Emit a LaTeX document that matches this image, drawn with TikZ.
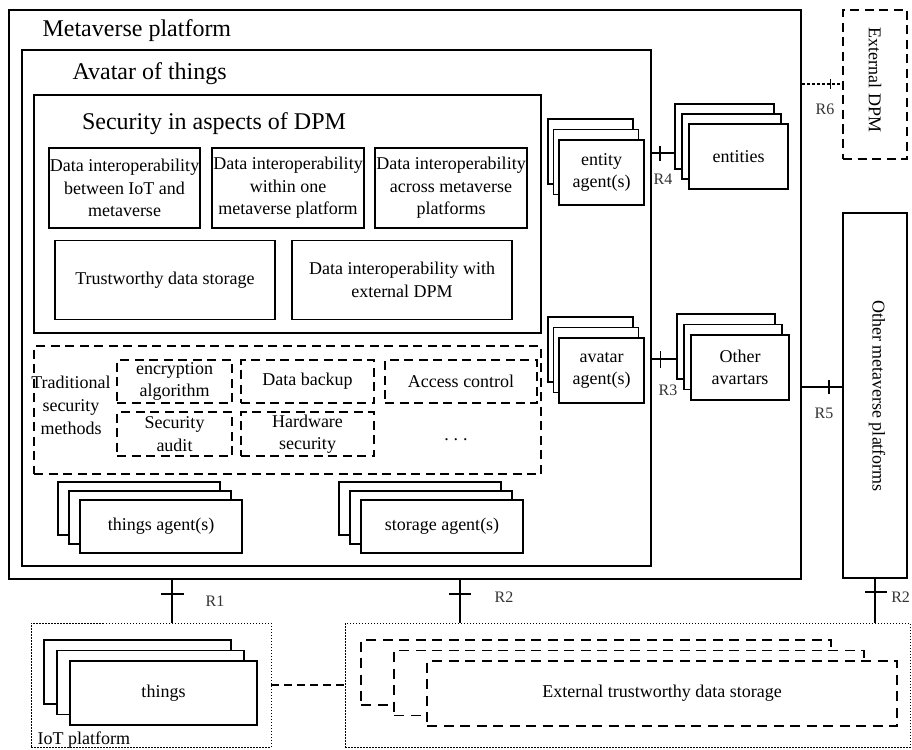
\documentclass[tikz,border=0pt]{standalone}
\usepackage{fontspec}
\setmainfont{Liberation Serif}
\usetikzlibrary{positioning, shadows}

\begin{document}
\begin{tikzpicture}[
  x=1pt, y=-1pt, line width=1.1pt,
  frame/.style={draw, inner sep=0pt},
  box/.style={rectangle, draw, fill=white, inner sep=0pt, align=center, font=\fontsize{18}{22.5}\selectfont},
  dbox/.style={box, dash pattern=on 9pt off 5.5pt},
  dotframe/.style={frame, line width=0.9pt, dash pattern=on 1.5pt off 1.5pt},
  title/.style={anchor=west, inner sep=0pt, font=\fontsize{24}{28}\selectfont},
  txt/.style={inner sep=0pt, align=center, font=\fontsize{18}{23}\selectfont},
  rlabel/.style={inner sep=0pt, text=black!80, font=\fontsize{16}{18}\selectfont},
  stack/.style 2 args={copy shadow={shadow xshift=-2*#1, shadow yshift=2*#2}, copy shadow={shadow xshift=-#1, shadow yshift=#2}},
  rtick/.style={line width=1.4pt}
]
\useasboundingbox (0,0) rectangle (912,749);

% platform frames
\node[frame, minimum width=792pt, minimum height=569pt] (mp) at (405,294.5) {};
\node[title] (mptitle) at (42,31) {Metaverse platform};
\node[frame, minimum width=629pt, minimum height=516pt] (aot) at (336.5,308) {};
\node[title] (aottitle) at (72,74) {Avatar of things};
\node[frame, minimum width=507pt, minimum height=238pt] (dpm) at (287.5,214) {};
\node[title, anchor=center] (dpmtitle) at (214,124) {Security in aspects of DPM};

% DPM aspects
\node[box, minimum width=151pt, minimum height=80pt] (di1) at (124.5,188) {Data interoperability\\between IoT and\\metaverse};
\node[box, minimum width=152pt, minimum height=80pt] (di2) at (288,188) {Data interoperability\\within one\\metaverse platform};
\node[box, minimum width=152pt, minimum height=80pt] (di3) at (451,188) {Data interoperability\\across metaverse\\platforms};
\node[box, minimum width=220pt, minimum height=79pt] (tds) at (165,280) {Trustworthy data storage};
\node[box, minimum width=220pt, minimum height=79pt] (dix) at (402,280) {Data interoperability with\\external DPM};

% traditional methods
\node[frame, dash pattern=on 9pt off 5.5pt, minimum width=507pt, minimum height=128pt] (trad) at (287.5,410) {};
\node[txt] (tradlbl) at (71,405) {Traditional\\security\\methods};
\node[dbox, minimum width=115pt, minimum height=43pt] (enc) at (174.5,381.5) {encryption\\algorithm};
\node[dbox, minimum width=133pt, minimum height=43pt] (bak) at (307.5,381.5) {Data backup};
\node[dbox, minimum width=152pt, minimum height=43pt] (acc) at (461,381.5) {Access control};
\node[dbox, minimum width=115pt, minimum height=44pt] (aud) at (174.5,434) {Security\\audit};
\node[dbox, minimum width=133pt, minimum height=44pt] (hws) at (307.5,434) {Hardware\\security};
\node[txt] (more) at (456,440) {.\hspace{5pt}.\hspace{5pt}.};

% agents
\node[box, stack={5.5pt}{10.5pt}, minimum width=85pt, minimum height=65pt] (enta) at (601.5,172.5) {entity\\agent(s)};
\node[box, stack={5.5pt}{10.5pt}, minimum width=85pt, minimum height=65pt] (avaa) at (601.5,370.5) {avatar\\agent(s)};
\node[box, stack={11pt}{9pt}, minimum width=162pt, minimum height=53pt] (thga) at (161,526.5) {things agent(s)};
\node[box, stack={11pt}{9pt}, minimum width=162pt, minimum height=53pt] (stoa) at (442,526.5) {storage agent(s)};

% outside the avatar
\node[box, stack={7pt}{10pt}, minimum width=99pt, minimum height=65pt] (ents) at (738.5,156.5) {entities};
\node[box, stack={7pt}{10.5pt}, minimum width=98pt, minimum height=65pt] (oav) at (740,367.5) {Other\\avartars};
\node[frame, dash pattern=on 9pt off 5.5pt, minimum width=64pt, minimum height=149pt] (edpm) at (875,84.5) {};
\node[txt, rotate=-90] (edpmlbl) at (875,80) {External DPM};
\node[frame, minimum width=64pt, minimum height=365pt] (omp) at (875,395.5) {};
\node[txt, rotate=-90] (omplbl) at (877,396) {Other metaverse platforms};

% IoT and storage
\node[dotframe, minimum width=240pt, minimum height=124pt] (iot) at (151,685) {};
\node[txt, anchor=west] (iotlbl) at (37,740) {IoT platform};
\node[box, stack={13pt}{10.5pt}, minimum width=187pt, minimum height=64pt] (thg) at (163.5,693) {things};
\node[dotframe, minimum width=565pt, minimum height=124pt] (store) at (627.5,685) {};
\node[box, stack={33pt}{10.5pt}, dash pattern=on 10pt off 6.5pt, minimum width=470pt, minimum height=65pt] (ets) at (662,693.5) {External trustworthy data storage};

% reference points
\coordinate (r4end) at ([xshift=-14pt, yshift=3.5pt]ents.west);
\coordinate (r3end) at ([xshift=-14pt, yshift=8.5pt]oav.west);

\draw (aot.east |- r4end) -- coordinate[pos=.36] (t4) (r4end);
\draw[rtick] ([yshift=7pt]t4) -- ([yshift=-8pt]t4);
\node[rlabel] (r4) at (663,179) {R4};

\draw (aot.east |- r3end) -- coordinate[pos=.35] (t3) (r3end);
\draw[rtick] ([yshift=8pt]t3) -- ([yshift=-9pt]t3);
\node[rlabel] (r3) at (668,390) {R3};

\draw (mp.east |- 0,387) -- coordinate[pos=.67] (t5) (omp.west |- 0,387);
\draw[rtick] ([yshift=7pt]t5) -- ([yshift=-7pt]t5);
\node[rlabel] (r5) at (824,413) {R5};

\draw[dash pattern=on 3pt off 2pt] (mp.east |- 0,84) -- coordinate[pos=.71] (t6) (edpm.west |- 0,84);
\draw[rtick] ([yshift=5pt]t6) -- ([yshift=-5pt]t6);
\node[rlabel] (r6) at (825,109) {R6};

\draw (mp.south -| 172,0) -- coordinate[pos=.34] (t1) (iot.north -| 172,0);
\draw[rtick] ([xshift=-11pt]t1) -- ([xshift=12pt]t1);
\node[rlabel] (r1) at (215,601) {R1};

\draw (mp.south -| 460,0) -- coordinate[pos=.34] (t2) (store.north -| 460,0);
\draw[rtick] ([xshift=-11pt]t2) -- ([xshift=11pt]t2);
\node[rlabel] (r2) at (504,597) {R2};

\draw (omp.south) -- coordinate[pos=.31] (t2b) (omp.south |- store.north);
\draw[rtick] ([xshift=-10pt]t2b) -- ([xshift=12pt]t2b);
\node[rlabel, anchor=east] (r2b) at (910.5,597) {R2};

\draw[dash pattern=on 8pt off 5pt] (iot.east) -- (store.west);
\end{tikzpicture}
\end{document}
